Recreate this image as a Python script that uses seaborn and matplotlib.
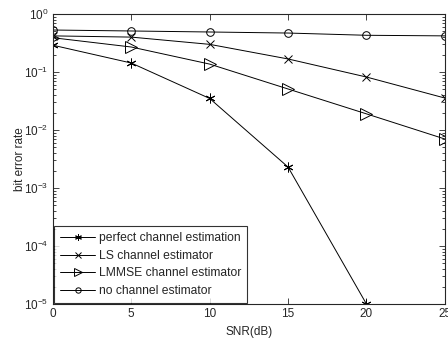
import numpy as np
import pandas as pd
import seaborn as sns
import matplotlib
matplotlib.use("Agg")
import matplotlib.pyplot as plt

snr = [0, 5, 10, 15, 20, 25]
perfect = [0.29, 0.143, 0.035, 0.0023, 1e-5, np.nan]
ls_est = [0.42, 0.40, 0.30, 0.168, 0.082, 0.0356]
lmmse = [0.39, 0.27, 0.137, 0.051, 0.019, 0.007]
no_est = [0.53, 0.51, 0.49, 0.47, 0.43, 0.42]
labels = ["perfect channel estimation", "LS channel estimator",
          "LMMSE channel estimator", "no channel estimator"]

sns.set_style("ticks")
plt.rcParams['font.family'] = ['Liberation Sans', 'DejaVu Sans']
plt.rcParams['mathtext.default'] = 'regular'
plt.rcParams['xtick.direction'] = 'in'
plt.rcParams['ytick.direction'] = 'in'

fig = plt.figure(figsize=(4.48, 3.42), dpi=100)
ax = fig.add_axes([0.118, 0.111, 0.875, 0.848])

series = [perfect, ls_est, lmmse, no_est]
markers = [(6, 2, 0), "x", ">", "o"]
msizes = [7, 5.5, 8, 5.5]
for vals, lab, m, ms in zip(series, labels, markers, msizes):
    df = pd.DataFrame({"snr": snr, "ber": vals}).dropna()
    sns.lineplot(data=df, x="snr", y="ber", ax=ax, color="black", lw=0.7,
                 marker=m, markersize=ms, markerfacecolor="none",
                 markeredgecolor="black", markeredgewidth=0.7, label=lab)

ax.set_yscale("log")
ax.set_ylim(1e-5, 1)
ax.set_xlim(0, 25)
ax.set_xticks(snr)
ax.set_yticks([1e-5, 1e-4, 1e-3, 1e-2, 1e-1, 1])
ax.tick_params(which="both", top=True, right=True, labelsize=8.5, width=0.6, pad=3)
ax.tick_params(which="major", length=4)
ax.tick_params(which="minor", length=2)
for s in ax.spines.values():
    s.set_linewidth(0.8)
ax.set_xlabel("SNR(dB)", fontsize=8.5, labelpad=4)
ax.set_ylabel("bit error rate", fontsize=8.5, labelpad=-1)

leg = ax.legend(loc="lower left", fontsize=8.7, frameon=True, fancybox=False,
                edgecolor="black", handlelength=2.9, borderaxespad=0.1,
                labelspacing=0.45, borderpad=0.5, handletextpad=0.3,
                markerscale=0.7)
leg.get_frame().set_linewidth(0.8)

fig.savefig("out.png", dpi=100)
